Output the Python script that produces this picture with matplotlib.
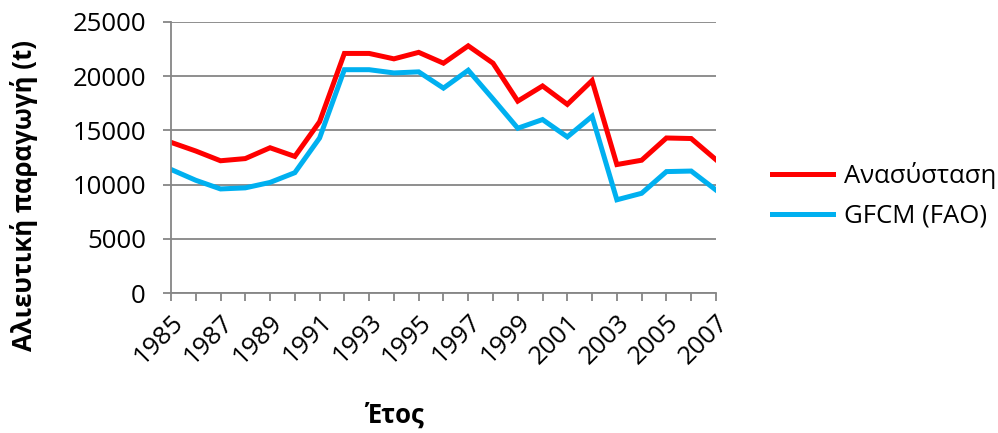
import matplotlib.pyplot as plt

plt.rcParams['font.family'] = ['Open Sans', 'DejaVu Sans']

# data
years = list(range(1985, 2008))
reconstruction = [13900, 13100, 12200, 12400, 13400, 12600, 15800, 22100, 22100, 21600,
                  22200, 21200, 22800, 21200, 17700, 19100, 17400, 19600, 11850, 12250,
                  14300, 14250, 12300]
gfcm = [11400, 10400, 9600, 9700, 10200, 11100, 14300, 20600, 20600, 20300,
        20400, 18900, 20550, 17900, 15200, 16000, 14400, 16300, 8600, 9200,
        11200, 11250, 9500]
series_names = ['Ανασύσταση', 'GFCM (FAO)']
y_ticks = [0, 5000, 10000, 15000, 20000, 25000]

FS = 18.5

fig = plt.figure(figsize=(9.98, 4.33), dpi=100)
ax = fig.add_axes([0.1713, 0.3233, 0.5461, 0.6259])

ax.plot(years, reconstruction, color='#FF0000', lw=3.6, label=series_names[0],
        solid_joinstyle='miter')
ax.plot(years, gfcm, color='#00B0F0', lw=3.6, label=series_names[1],
        solid_joinstyle='miter')

ax.set_xlim(years[0], years[-1])
ax.set_ylim(0, 25000)
ax.set_yticks(y_ticks)
ax.set_yticklabels([str(v) for v in y_ticks], fontsize=FS)
ax.yaxis.grid(True, color='#868686', lw=1.3)
ax.set_axisbelow(True)

ax.set_xticks(years)
ax.set_xticklabels([str(y) if (y - 1985) % 2 == 0 else '' for y in years],
                   fontsize=FS, rotation=45, ha='right', rotation_mode='anchor')

for side in ['top', 'right']:
    ax.spines[side].set_visible(False)
for side in ['left', 'bottom']:
    ax.spines[side].set_color('#868686')
    ax.spines[side].set_linewidth(1.3)
ax.tick_params(axis='both', colors='#868686', labelcolor='black', length=6, width=1.3)
ax.tick_params(axis='y', pad=12)
ax.tick_params(axis='x', pad=6)

# axis titles sit off-centre in the reference
ax.set_ylabel('Αλιευτική παραγωγή (t)', fontsize=FS, fontweight='bold')
ax.yaxis.set_label_coords(-0.244, 0.36)
ax.set_xlabel('Έτος', fontsize=FS, fontweight='bold')
ax.xaxis.set_label_coords(0.411, -0.4)

ax.legend(loc='center left', bbox_to_anchor=(1.06, 0.36), frameon=False,
          fontsize=FS, handlelength=2.4, handletextpad=0.4, labelspacing=0.55)

fig.savefig('out.png', dpi=100)
